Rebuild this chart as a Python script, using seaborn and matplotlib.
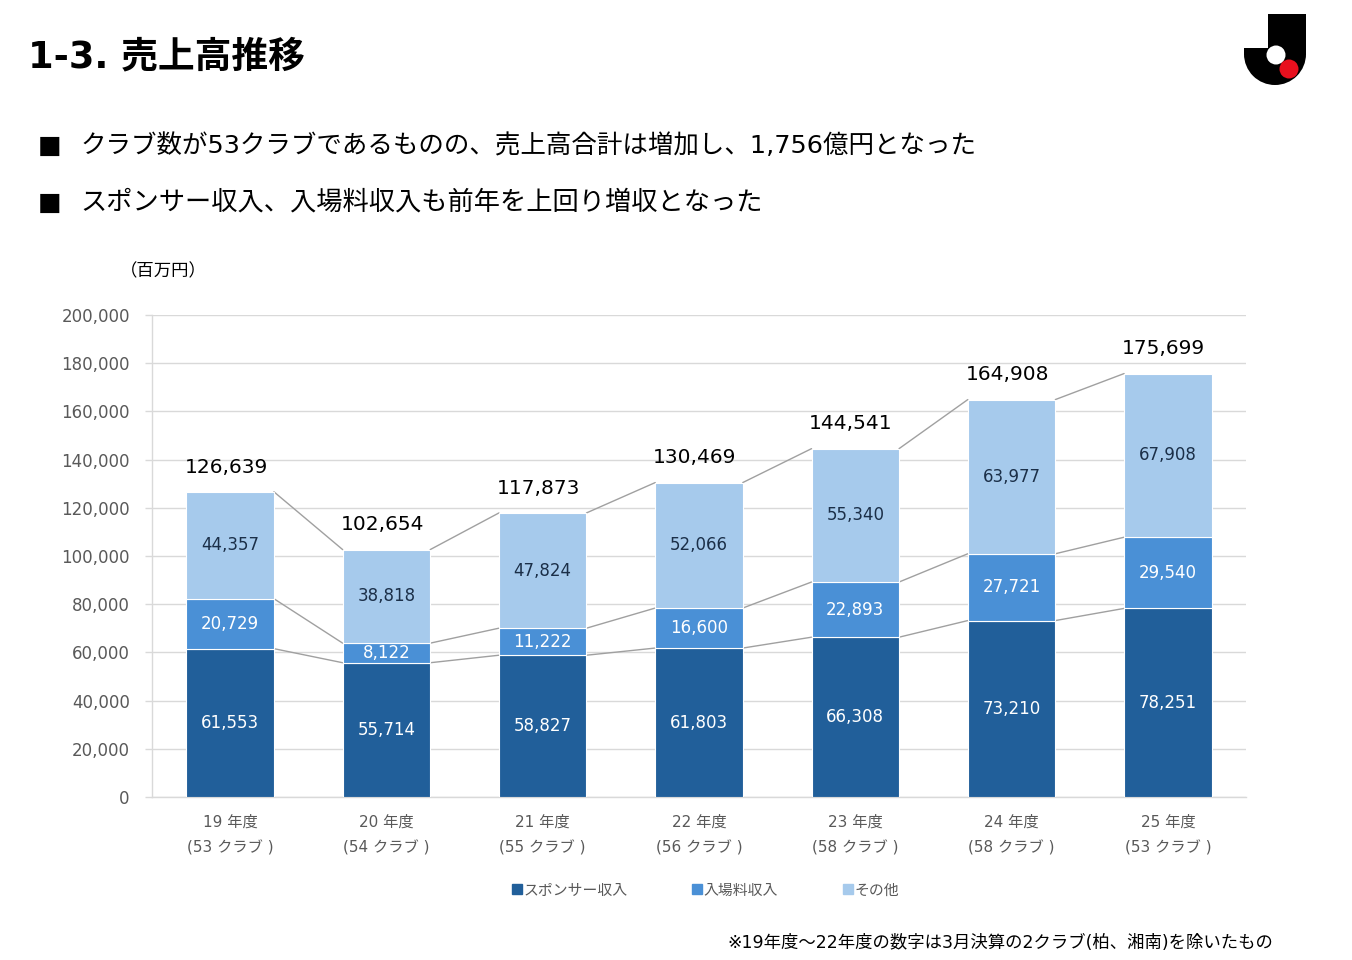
import matplotlib
matplotlib.use("Agg")
import matplotlib.pyplot as plt
from matplotlib.lines import Line2D
from matplotlib.patches import Rectangle, Circle, Wedge
from matplotlib.ticker import FuncFormatter
import pandas as pd
import seaborn as sns

# ==========================================
# DATA (million yen)
# ==========================================
YEARS = ["19", "20", "21", "22", "23", "24", "25"]
CLUBS = [53, 54, 55, 56, 58, 58, 53]
SPONSOR = [61553, 55714, 58827, 61803, 66308, 73210, 78251]
TICKET = [20729, 8122, 11222, 16600, 22893, 27721, 29540]
OTHER = [44357, 38818, 47824, 52066, 55340, 63977, 67908]
TOTAL = [126639, 102654, 117873, 130469, 144541, 164908, 175699]
SERIES_NAMES = ["スポンサー収入", "入場料収入", "その他"]

COLORS = ["#215F9A", "#4A90D6", "#A6CAEC"]
LABEL_COLORS = ["white", "white", "#1B2F48"]
GRAY = "#595959"
GRID = "#D9D9D9"
BAR_W = 0.56

sns.set_theme(style="white")
plt.rcParams["font.family"] = ["DejaVu Sans", "Noto Sans CJK JP"]

labels = [f"{y} 年度\n({c} クラブ )" for y, c in zip(YEARS, CLUBS)]
df = pd.DataFrame({"label": labels, "sponsor": SPONSOR,
                   "ticket": TICKET, "other": OTHER})

fig = plt.figure(figsize=(13.52, 9.6), dpi=100)

# overlay in pixel coordinates for header decorations
ov = fig.add_axes([0, 0, 1, 1])
ov.set_xlim(0, 1352)
ov.set_ylim(960, 0)
ov.axis("off")
ov.add_patch(Rectangle((1268, 14), 38, 40, color="black", lw=0))
ov.add_patch(Rectangle((1244, 48), 62, 7, color="black", lw=0))
ov.add_patch(Wedge((1275, 54), 31, 0, 180, color="black", lw=0))
ov.add_patch(Circle((1276, 55), 9.5, color="white", lw=0))
ov.add_patch(Circle((1289, 69), 9.5, color="#E8101E", lw=0))

ax = fig.add_axes([152 / 1352, 1 - 797 / 960, 1094 / 1352, 482 / 960])

# stacked bars
bottoms = [0] * len(YEARS)
layers = [SPONSOR, TICKET, OTHER]
for col, vals, color, tcolor in zip(["sponsor", "ticket", "other"], layers,
                                    COLORS, LABEL_COLORS):
    sns.barplot(data=df, x="label", y=col, color=color, saturation=1,
                width=BAR_W, bottom=bottoms, errorbar=None, ax=ax,
                edgecolor="white", linewidth=0.8, zorder=3)
    for i, v in enumerate(vals):
        ax.text(i, bottoms[i] + v / 2, f"{v:,}", ha="center", va="center",
                color=tcolor, fontsize=12, zorder=5)
    tops = [b + v for b, v in zip(bottoms, vals)]
    # connector lines between bars
    for i in range(len(YEARS) - 1):
        ax.plot([i + BAR_W / 2, i + 1 - BAR_W / 2], [tops[i], tops[i + 1]],
                color="#A0A0A0", lw=1, zorder=2)
    bottoms = tops

for i, t in enumerate(TOTAL):
    ax.annotate(f"{t:,}", (i, t), xytext=(-3, 11), textcoords="offset points",
                ha="center", va="bottom", fontsize=14.5, color="black")

ax.set_xlim(-0.5, len(YEARS) - 0.5)
ax.set_ylim(0, 200000)
ax.set_yticks(range(0, 200001, 20000))
ax.yaxis.set_major_formatter(FuncFormatter(lambda v, p: f"{int(v):,}"))
ax.set_xlabel("")
ax.set_ylabel("")
ax.grid(axis="y", color=GRID, lw=1, zorder=0)
ax.set_axisbelow(True)
for s in ["top", "right"]:
    ax.spines[s].set_visible(False)
for s in ["left", "bottom"]:
    ax.spines[s].set_color(GRID)
    ax.spines[s].set_linewidth(1)
ax.tick_params(axis="y", left=True, length=5, width=1, color=GRID,
               pad=11, labelsize=12, labelcolor=GRAY)
ax.tick_params(axis="x", bottom=False, pad=7, labelsize=11, labelcolor=GRAY)
for lab in ax.get_xticklabels():
    lab.set_linespacing(1.85)

# legend
handles = [Line2D([], [], marker="s", linestyle="", color=c, markersize=7)
           for c in COLORS]
leg = fig.legend(handles, SERIES_NAMES, loc="center",
                 bbox_to_anchor=(705 / 1352, 1 - 890 / 960), ncol=3,
                 frameon=False, handletextpad=0.05, columnspacing=4.3,
                 handlelength=0.8, fontsize=10.7)
for t in leg.get_texts():
    t.set_color(GRAY)

# header texts
fig.text(28 / 1352, 1 - 57 / 960, "1-3. 売上高推移", fontsize=26.5,
         fontweight="bold", va="center", ha="left", color="black")
fig.text(38 / 1352, 1 - 146 / 960, "■", fontsize=18, va="center", color="black")
fig.text(80 / 1352, 1 - 146 / 960,
         "クラブ数が53クラブであるものの、売上高合計は増加し、1,756億円となった",
         fontsize=18.35, va="center", ha="left", color="black")
fig.text(38 / 1352, 1 - 203 / 960, "■", fontsize=18, va="center", color="black")
fig.text(80 / 1352, 1 - 203 / 960,
         "スポンサー収入、入場料収入も前年を上回り増収となった",
         fontsize=18.9, va="center", ha="left", color="black")
fig.text(120 / 1352, 1 - 271 / 960, "（百万円）", fontsize=12.5,
         va="center", ha="left", color="black")
fig.text(1273 / 1352, 1 - 943 / 960,
         "※19年度～22年度の数字は3月決算の2クラブ(柏、湘南)を除いたもの",
         fontsize=12.5, va="center", ha="right", color="black")

fig.savefig("out.png", dpi=100)
plt.close(fig)
